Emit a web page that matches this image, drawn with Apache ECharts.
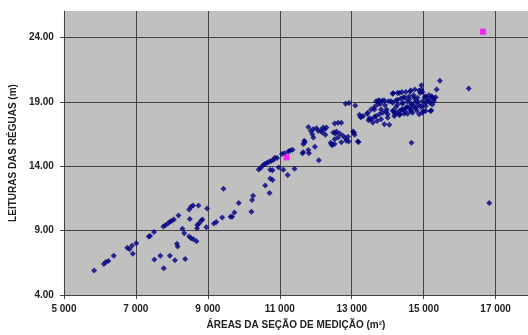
<!DOCTYPE html>
<html lang="pt">
<head>
<meta charset="UTF-8">
<title>Leituras das réguas x áreas</title>
<script src="https://cdn.jsdelivr.net/npm/echarts@6/dist/echarts.min.js"></script>
<style>
  html, body { margin: 0; padding: 0; background: #fff; }
  #chart { width: 528px; height: 335px; }
</style>
</head>
<body>
<div id="chart"></div>
<script>
// áreas da seção de medição (m²)
var areas = [
  5840, 6110, 6165, 6235, 6385, 6760, 6825, 6890, 6915, 7010,
  7360, 7395, 7505, 7765, 7820, 7890, 7945, 8000, 8055, 8185,
  7515, 7680, 7775, 7945, 8085, 8370, 8140, 8160, 8295, 8345,
  8500, 8480, 8535, 8600, 8685, 8480, 8535, 8590, 8740, 8980,
  8710, 8755, 8815, 8850, 8700, 8960, 9170, 9235, 9400, 9435,
  9630, 9675, 9740, 9860, 10210, 10230, 10260, 10595, 10715, 10735,
  10800, 10413, 10470, 10525, 10580, 10640, 10700, 10760, 10820, 10860,
  10925, 10735, 10800, 10970, 11100, 11220, 11410, 11060, 11130, 11240,
  11290, 11355, 11630, 11655, 11680, 11700, 11655, 11795, 11810, 11975,
  12085, 11795, 11865, 11930, 11905, 11935, 12020, 12070, 12140, 12205,
  12250, 12180, 12295, 12270, 12415, 12455, 12525, 12490, 12545, 12525,
  12620, 12710, 12575, 12665, 12620, 12755, 12525, 12435, 12710, 12850,
  12895, 12820, 12915, 13035, 13060, 13080, 13170, 13190, 12830, 12925,
  13098, 13217, 13245, 13318, 13430, 13466, 13493, 13540, 13586, 13631,
  13631, 13705, 13677, 13741, 13796, 13815, 13861, 13925, 13953, 13999,
  14045, 14091, 14137, 14165, 14201, 14229, 14275, 14321, 14348, 14386,
  14414, 14441, 14477, 14505, 14533, 14551, 14597, 14624, 14643, 14662,
  14689, 14717, 14735, 14754, 14781, 14809, 14827, 14845, 14873, 14900,
  14919, 14938, 14938, 14965, 14992, 15029, 15057, 15103, 15149, 15176,
  15213, 15241, 15286, 15332, 15360, 15451, 14662, 16251, 16822,
  14873, 14643, 14395, 14275, 14155, 14965, 15057, 15222, 15286, 15241,
  15194, 15057, 14946, 14827, 14735, 14597, 14487, 14367, 14229, 14027,
  13907, 13769, 13723, 13631, 13539, 13447, 13263, 13815, 13907, 13861,
  13971, 13999, 14137, 14229, 14321, 14414, 14505, 14597, 14689, 14781,
  14965, 14643, 14459, 14321, 14183, 13769, 13677, 14137, 14275, 14414,
  14551, 15057, 15149
];
// leituras das réguas (m)
var leituras = [
  5.90, 6.41, 6.56, 6.64, 7.05, 7.67, 7.56, 7.82, 7.21, 8.02,
  8.54, 8.59, 8.90, 9.31, 9.41, 9.56, 9.69, 9.77, 9.87, 10.18,
  6.75, 7.05, 6.08, 7.05, 6.69, 6.79, 7.98, 7.77, 9.15, 8.79,
  9.90, 8.54, 8.41, 8.33, 8.18, 10.64, 10.85, 10.95, 10.95, 10.72,
  9.44, 9.56, 9.77, 9.87, 9.18, 9.26, 9.56, 9.67, 10.02, 12.25,
  10.08, 10.08, 10.41, 11.15, 10.46, 11.38, 11.70, 12.51, 11.92, 13.05,
  12.92, 13.75, 13.87, 14.05, 14.18, 14.25, 14.35, 14.40, 14.48, 14.66,
  14.64, 13.72, 13.68, 13.90, 13.72, 13.31, 13.80, 14.95, 15.00, 15.15,
  15.21, 15.28, 15.00, 15.08, 15.97, 15.85, 15.72, 15.25, 15.00, 15.51,
  14.46, 17.05, 16.74, 16.87, 16.49, 16.23, 16.95, 16.74, 16.80, 17.00,
  16.87, 16.62, 17.00, 16.44, 15.82, 15.62, 15.72, 16.62, 16.54, 17.31,
  17.38, 17.38, 16.69, 16.54, 16.23, 16.36, 16.10, 15.72, 15.85, 15.97,
  16.28, 16.18, 15.92, 16.69, 16.62, 16.44, 15.92, 15.87, 18.85, 18.90,
  18.72, 18.00, 17.82, 17.90, 18.08, 17.56, 17.72, 17.64, 17.40, 18.41,
  17.82, 17.51, 19.05, 19.10, 18.85, 18.41, 19.10, 18.74, 18.23, 17.77,
  17.21, 19.05, 19.62, 18.33, 18.08, 18.59, 19.15, 19.69, 18.03, 18.41,
  18.85, 19.36, 18.28, 19.77, 18.59, 18.08, 19.18, 19.82, 18.41, 18.85,
  18.15, 19.51, 18.59, 19.95, 19.05, 18.33, 19.31, 18.79, 18.03, 19.69,
  18.59, 20.28, 19.95, 19.05, 18.28, 19.36, 18.67, 19.18, 19.51, 18.92,
  18.33, 19.31, 19.05, 19.36, 19.95, 20.64, 15.82, 20.03, 11.15,
  19.87, 19.87, 19.77, 19.69, 19.69, 19.77, 19.44, 19.44, 19.26, 18.79,
  18.28, 18.28, 18.67, 19.05, 19.31, 19.44, 19.31, 19.26, 19.10, 19.05,
  19.10, 19.10, 18.79, 18.59, 18.41, 18.15, 17.82, 17.64, 17.25, 18.15,
  18.41, 18.03, 18.28, 18.15, 18.28, 18.41, 18.54, 18.59, 18.79, 18.54,
  18.15, 18.28, 18.08, 17.98, 17.90, 18.03, 17.90, 18.92, 18.79, 18.92,
  19.00, 18.92, 19.10
];
// pontos destacados (magenta)
var destaqueAreas = [11190, 16650];
var destaqueLeituras = [14.69, 24.44];

var pontos = areas.map(function (a, i) { return [a, leituras[i]]; });
var destaques = destaqueAreas.map(function (a, i) { return [a, destaqueLeituras[i]]; });

var fonte = 'Liberation Sans, Arial, sans-serif';

var myChart = echarts.init(document.getElementById('chart'));
var option = {
    animation: false,
    grid: {
        left: 60,
        right: 0,
        top: 11,
        bottom: 36,
        show: true,
        backgroundColor: '#c0c0c0',
        borderWidth: 0
    },
    xAxis: {
        type: 'value',
        min: 5000,
        max: 17900,
        interval: 2000,
        name: 'ÁREAS DA SEÇÃO DE MEDIÇÃO (m²)',
        nameLocation: 'middle',
        nameGap: 25,
        nameTextStyle: { fontFamily: fonte, fontWeight: 'bold', fontSize: 10, color: '#222' },
        axisLine: { show: true, lineStyle: { color: '#444', width: 1 } },
        axisTick: { show: true, length: 4, lineStyle: { color: '#444' } },
        axisLabel: {
            fontFamily: fonte, fontWeight: 'bold', fontSize: 10, color: '#222', margin: 9,
            showMaxLabel: false,
            formatter: function (v) { return String(v).replace(/\B(?=(\d{3})+(?!\d))/g, ' '); }
        },
        splitLine: { show: true, showMaxLine: false, lineStyle: { color: '#444', width: 1 } }
    },
    yAxis: {
        type: 'value',
        min: 4,
        max: 26.05,
        interval: 5,
        name: 'LEITURAS DAS RÉGUAS (m)',
        nameLocation: 'middle',
        nameGap: 42,
        nameTextStyle: { fontFamily: fonte, fontWeight: 'bold', fontSize: 10, color: '#222' },
        axisLine: { show: true, lineStyle: { color: '#444', width: 1 } },
        axisTick: { show: true, length: 4, lineStyle: { color: '#444' } },
        axisLabel: {
            fontFamily: fonte, fontWeight: 'bold', fontSize: 10, color: '#222', margin: 10,
            showMaxLabel: false,
            formatter: function (v) { return v.toFixed(2); }
        },
        splitLine: { show: true, showMaxLine: false, lineStyle: { color: '#444', width: 1 } }
    },
    series: [
        {
            name: 'Leituras',
            type: 'scatter',
            symbol: 'diamond',
            symbolSize: 6,
            itemStyle: { color: '#000080' },
            data: pontos
        },
        {
            name: 'Destaques',
            type: 'scatter',
            symbol: 'rect',
            symbolSize: 6,
            itemStyle: { color: '#ff00ff' },
            data: destaques
        }
    ]
};
myChart.setOption(option);
</script>
</body>
</html>
